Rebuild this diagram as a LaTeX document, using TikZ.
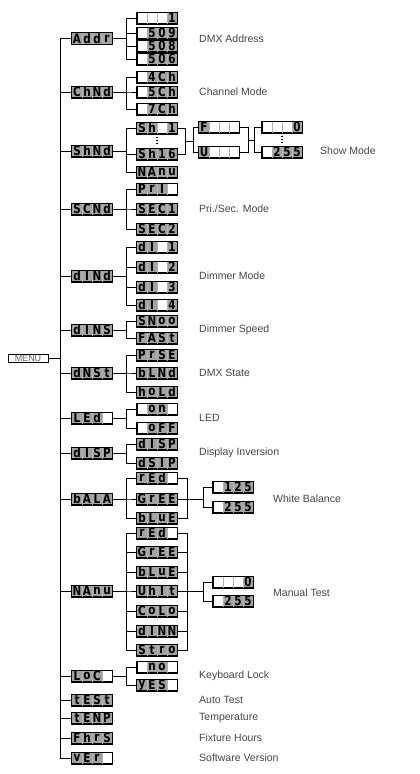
\documentclass[tikz,border=0pt]{standalone}
\usepackage{fontspec}
\setmainfont{Liberation Sans}
\newfontfamily\lcdfont{DejaVu Sans}[FakeStretch=0.8]
\tikzset{
  conn/.style={draw=black, line width=0.8pt},
  lcdbox/.style={draw=black, line width=0.8pt, minimum width=40pt, minimum height=11pt, inner sep=0pt, fill=white},
  lcdframe/.style={draw=black, line width=0.8pt},
  lcdch/.style={fill=gray!72, minimum width=10pt, minimum height=10.2pt, inner sep=0pt, font=\lcdfont\bfseries\fontsize{13}{13}\selectfont, text=black},
  celldiv/.style={draw=gray!60, line width=0.4pt},
  lbl/.style={anchor=west, font=\fontsize{10.5}{12}\selectfont, text=black!72, inner sep=0pt},
  vdots/.style={line width=1.2pt, dash pattern=on 1pt off 2pt},
  menubox/.style={draw=black, line width=0.8pt, minimum width=40pt, minimum height=7.5pt, inner sep=0pt, font=\fontsize{9}{9}\selectfont, text=black!60}
}
\newcommand\lcdcell[3]{\if\relax\detokenize{#3}\relax\else\node[lcdch] at ([xshift=#2]#1.center) {#3};\fi}
\newcommand\lcd[7]{%
  \node[lcdbox] (#1) at (#2,#3) {};
  \lcdcell{#1}{-15pt}{#4}\lcdcell{#1}{-5pt}{#5}\lcdcell{#1}{5pt}{#6}\lcdcell{#1}{15pt}{#7}%
  \draw[celldiv] ([xshift=-10pt]#1.north) -- ([xshift=-10pt]#1.south);
  \draw[celldiv] (#1.north) -- (#1.south);
  \draw[celldiv] ([xshift=10pt]#1.north) -- ([xshift=10pt]#1.south);
  \draw[lcdframe] (#1.south west) rectangle (#1.north east);
}
\begin{document}
\begin{tikzpicture}[x=1pt, y=-1pt]
\fill[white] (0,0) rectangle (420,774);
\useasboundingbox (0,0) rectangle (420,774);

% MENU
\node[menubox] (MENU) at (28,358.5) {MENU};

% level 1
\lcd{Addr}{92}{38.5}{A}{d}{d}{r}
\lcd{ChNd}{92}{92}{C}{h}{N}{d}
\lcd{ShNd}{92}{151}{S}{h}{N}{d}
\lcd{SCNd}{92}{209}{S}{C}{N}{d}
\lcd{dINd}{92}{276}{d}{I}{N}{d}
\lcd{dINS}{92}{330}{d}{I}{N}{S}
\lcd{dNSt}{92}{373}{d}{N}{S}{t}
\lcd{LEd}{92}{418}{L}{E}{d}{}
\lcd{dISP}{92}{453}{d}{I}{S}{P}
\lcd{bALA}{92}{499}{b}{A}{L}{A}
\lcd{NAnu}{92}{591}{N}{A}{n}{u}
\lcd{LoC}{92}{676}{L}{o}{C}{}
\lcd{tESt}{92}{700}{t}{E}{S}{t}
\lcd{tENP}{92}{718}{t}{E}{N}{P}
\lcd{FhrS}{92}{738}{F}{h}{r}{S}
\lcd{vEr}{92}{758}{v}{E}{r}{}

% level 2
\lcd{a1}{157}{18}{}{}{}{1}
\lcd{a2}{157}{33}{}{5}{0}{9}
\lcd{a3}{157}{46}{}{5}{0}{8}
\lcd{a4}{157}{59}{}{5}{0}{6}
\lcd{c1}{157}{77}{}{4}{C}{h}
\lcd{c2}{157}{92}{}{5}{C}{h}
\lcd{c3}{157}{109}{}{7}{C}{h}
\lcd{s1}{157}{128}{S}{h}{}{1}
\lcd{s2}{157}{154}{S}{h}{1}{6}
\lcd{s3}{157}{172}{N}{A}{n}{u}
\lcd{p1}{157}{189}{P}{r}{I}{}
\lcd{p2}{157}{209}{S}{E}{C}{1}
\lcd{p3}{157}{229}{S}{E}{C}{2}
\lcd{d1}{157}{247}{d}{I}{}{1}
\lcd{d2}{157}{267}{d}{I}{}{2}
\lcd{d3}{157}{287}{d}{I}{}{3}
\lcd{d4}{157}{305}{d}{I}{}{4}
\lcd{sp1}{157}{321}{S}{N}{o}{o}
\lcd{sp2}{157}{338}{F}{A}{S}{t}
\lcd{ds1}{157}{355}{P}{r}{S}{E}
\lcd{ds2}{157}{373}{b}{L}{N}{d}
\lcd{ds3}{157}{392}{h}{o}{L}{d}
\lcd{l1}{157}{409}{}{o}{n}{}
\lcd{l2}{157}{428}{}{o}{F}{F}
\lcd{i1}{157}{444}{d}{I}{S}{P}
\lcd{i2}{157}{463}{d}{S}{I}{P}
\lcd{w1}{157}{478}{r}{E}{d}{}
\lcd{w2}{157}{499}{G}{r}{E}{E}
\lcd{w3}{157}{518}{b}{L}{u}{E}
\lcd{m1}{157}{533}{r}{E}{d}{}
\lcd{m2}{157}{552}{G}{r}{E}{E}
\lcd{m3}{157}{572}{b}{L}{u}{E}
\lcd{m4}{157}{591}{U}{h}{I}{t}
\lcd{m5}{157}{611}{C}{o}{L}{o}
\lcd{m6}{157}{631}{d}{I}{N}{N}
\lcd{m7}{157}{650}{S}{t}{r}{o}
\lcd{k1}{157}{667}{}{n}{o}{}
\lcd{k2}{157}{685}{y}{E}{S}{}

% level 3
\lcd{F}{219}{127}{F}{}{}{}
\lcd{U}{219}{152}{U}{}{}{}
\lcd{z0}{282}{127}{}{}{}{0}
\lcd{z255}{282}{152}{}{2}{5}{5}
\lcd{wb1}{233}{487}{}{1}{2}{5}
\lcd{wb2}{233}{507}{}{2}{5}{5}
\lcd{mt1}{233}{582}{}{}{}{0}
\lcd{mt2}{233}{601}{}{2}{5}{5}

% spine
\foreach \n in {Addr,ChNd,ShNd,SCNd,dINd,dINS,dNSt,LEd,dISP,bALA,NAnu,LoC,tESt,tENP,FhrS,vEr}
  \draw[conn] (MENU.east) -- ++(12,0) |- (\n.west);

% level1 -> level2
\foreach \p/\c in {Addr/a1,Addr/a2,Addr/a3,Addr/a4,ChNd/c1,ChNd/c2,ChNd/c3,ShNd/s1,ShNd/s2,ShNd/s3,
  SCNd/p1,SCNd/p2,SCNd/p3,dINd/d1,dINd/d2,dINd/d3,dINd/d4,dINS/sp1,dINS/sp2,dNSt/ds1,dNSt/ds2,dNSt/ds3,
  LEd/l1,LEd/l2,dISP/i1,dISP/i2,bALA/w1,bALA/w2,bALA/w3,NAnu/m1,NAnu/m2,NAnu/m3,NAnu/m4,NAnu/m5,NAnu/m6,NAnu/m7,
  LoC/k1,LoC/k2}
  \draw[conn] (\p.east) -- ++(14,0) |- (\c.west);

% show mode brackets
\coordinate (shj) at (185,141);
\draw[conn] (s1.east) -| (shj);
\draw[conn] (s2.east) -| (shj);
\draw[conn] (shj) -- ++(8,0) |- (F.west);
\draw[conn] (shj) -- ++(8,0) |- (U.west);
\coordinate (fuj) at (248,140);
\draw[conn] (F.east) -| (fuj);
\draw[conn] (U.east) -| (fuj);
\draw[conn] (fuj) -- ++(6,0) |- (z0.west);
\draw[conn] (fuj) -- ++(6,0) |- (z255.west);
\draw[vdots] ([yshift=-3pt]s1.south) -- ([yshift=3pt]s2.north);
\draw[vdots] ([yshift=-3pt]z0.south) -- ([yshift=3pt]z255.north);

% white balance
\coordinate (wbj) at (187,499);
\draw[conn] (w1.east) -| (wbj);
\draw[conn] (w3.east) -| (wbj);
\draw[conn] (w2.east) -- (wbj);
\draw[conn] (wbj) -- ++(16,0) |- (wb1.west);
\draw[conn] (wbj) -- ++(16,0) |- (wb2.west);

% manual test
\coordinate (mtj) at (187,591);
\draw[conn] (m1.east) -| (mtj);
\draw[conn] (m7.east) -| (mtj);
\foreach \c in {m2,m3,m4,m5,m6}
  \draw[conn] (\c.east) -- (\c.east -| mtj);
\draw[conn] (mtj) -- ++(16,0) |- (mt1.west);
\draw[conn] (mtj) -- ++(16,0) |- (mt2.west);

% labels
\node[lbl] (L1) at (199,38.5) {DMX Address};
\node[lbl] (L2) at (199,92) {Channel Mode};
\node[lbl] (L3) at (320,151) {Show Mode};
\node[lbl] (L4) at (199,209) {Pri./Sec. Mode};
\node[lbl] (L5) at (199,276) {Dimmer Mode};
\node[lbl] (L6) at (199,330) {Dimmer Speed};
\node[lbl] (L7) at (199,373) {DMX State};
\node[lbl] (L8) at (199,418) {LED};
\node[lbl] (L9) at (199,453) {Display Inversion};
\node[lbl] (L10) at (273,499) {White Balance};
\node[lbl] (L11) at (273,593) {Manual Test};
\node[lbl] (L12) at (199,676) {Keyboard Lock};
\node[lbl] (L13) at (199,700) {Auto Test};
\node[lbl] (L14) at (199,718) {Temperature};
\node[lbl] (L15) at (199,738) {Fixture Hours};
\node[lbl] (L16) at (199,758) {Software Version};
\end{tikzpicture}
\end{document}
